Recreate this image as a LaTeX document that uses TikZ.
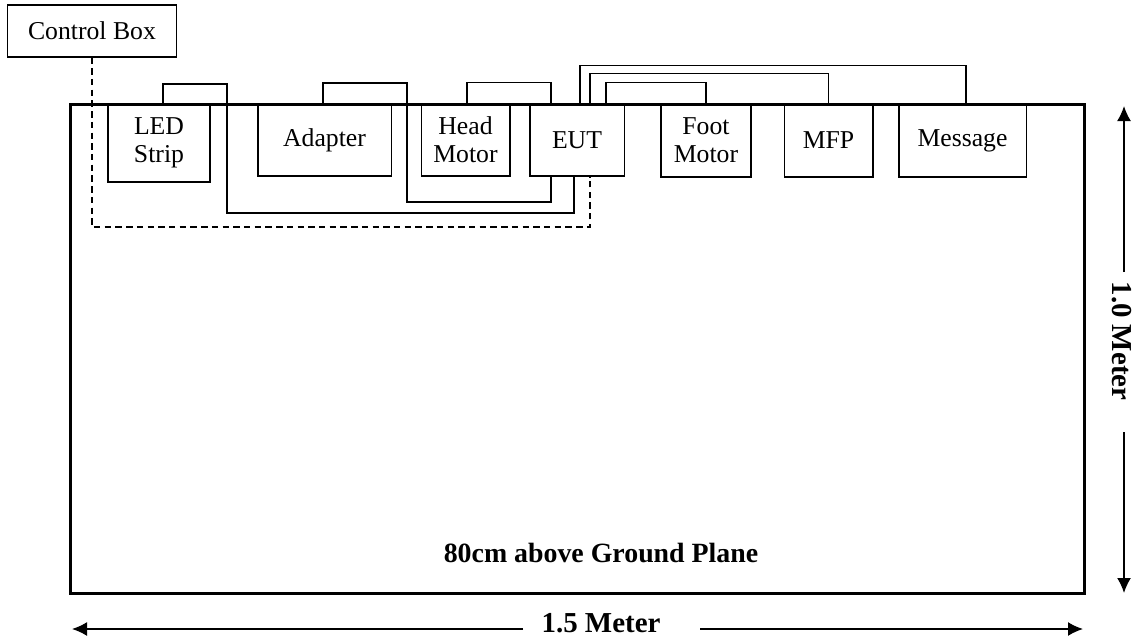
\documentclass[tikz,border=0pt]{standalone}
\usepackage{fontspec}
\setmainfont{Liberation Serif}
\usepackage{tikz}
\usetikzlibrary{arrows.meta,calc}

\begin{document}
\begin{tikzpicture}[
  x=0.4667pt, y=-0.4667pt,
  box/.style={rectangle,draw,line width=0.5pt,inner sep=0pt,align=center,
              font=\fontsize{12}{13}\selectfont},
  table/.style={draw,line width=1.4pt},
  cable/.style={line width=0.5pt},
  ctrlline/.style={line width=0.6pt,dash pattern=on 3pt off 2pt},
  dim/.style={-{Latex[length=7pt,width=6.5pt]},line width=0.7pt},
  dimlabel/.style={font=\fontsize{13.5}{15}\selectfont\bfseries,inner sep=0pt}
]
\useasboundingbox (0,0) rectangle (1137,641);

% test table
\draw[table] (70,104) rectangle (1084,593);
\node[font=\fontsize{13}{15}\selectfont\bfseries,inner sep=0pt] (ground) at (601,553) {80cm above Ground Plane};

% units on the table
\node[box,minimum width=79.3pt,minimum height=24.3pt] (ctrl)    at (92,31)    {Control Box};
\node[box,minimum width=47.6pt,minimum height=36.4pt] (led)     at (159,143)  {LED\\Strip};
\node[box,minimum width=62.1pt,minimum height=33.6pt] (adapter) at (324.5,140) {Adapter};
\node[box,minimum width=41.5pt,minimum height=33.6pt] (head)    at (465.5,140) {Head\\Motor};
\node[box,minimum width=43.9pt,minimum height=33.6pt] (eut)     at (577,140)  {EUT};
\node[box,minimum width=42pt,minimum height=34.1pt]   (foot)    at (706,140.5) {Foot\\Motor};
\node[box,minimum width=41.5pt,minimum height=34.1pt] (mfp)     at (828.5,140.5) {MFP};
\node[box,minimum width=59.3pt,minimum height=34.1pt] (msg)     at (962.5,140.5) {Message};

% cables
\draw[cable] ($(led.north)+(4,0)$) |- (227,84) -- (227,213) -| ($(eut.south)+(-3,0)$);
\draw[cable] ($(adapter.north)+(-1.5,0)$) |- (407,83) -- (407,202) -| ($(eut.south)+(-26,0)$);
\draw[cable] ($(head.north)+(1.5,0)$) |- ($(eut.north)+(-26,-21)$) -- ($(eut.north)+(-26,0)$);
\draw[cable] ($(eut.north)+(3,0)$) |- ($(msg.north)+(3.5,-38)$) -- ($(msg.north)+(3.5,0)$);
\draw[cable] ($(eut.north)+(13,0)$) |- ($(mfp.north)+(0,-30)$) -- (mfp.north);
\draw[cable] ($(eut.north)+(29,0)$) |- ($(foot.north)+(0,-21)$) -- (foot.north);
\draw[ctrlline] (ctrl.south) |- (590,227) -- ($(eut.south)+(13,0)$);

% dimensions
\node[dimlabel] (wlbl) at (601,623) {1.5 Meter};
\node[dimlabel,rotate=-90] (hlbl) at (1121.5,341) {1.0 Meter};
\coordinate (wl) at (72,629);
\coordinate (wr) at (1083,629);
\coordinate (ht) at (1124,106);
\coordinate (hb) at (1124,593);
\draw[dim] (523,629) -- (wl);
\draw[dim] (700,629) -- (wr);
\draw[dim] (1124,272) -- (ht);
\draw[dim] (1124,432) -- (hb);
\end{tikzpicture}
\end{document}
